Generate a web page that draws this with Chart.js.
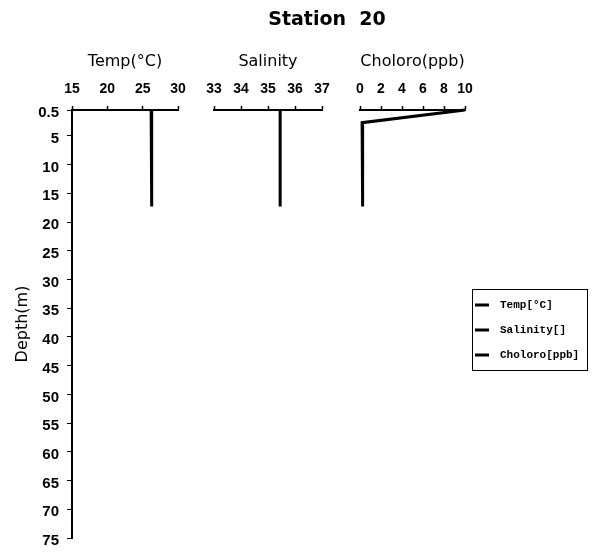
<!DOCTYPE html>
<html>
<head>
<meta charset="utf-8">
<script src="https://cdn.jsdelivr.net/npm/chart.js@4/dist/chart.umd.min.js"></script>
<style>
  html, body { margin: 0; padding: 0; background: #fff; }
</style>
</head>
<body>
<canvas id="perfil" width="596" height="557"></canvas>
<script>
const titulo = "Station  20";
const depth = [0.5, 2.7, 17.3];
const temp = [26.2, 26.25, 26.3];
const salinity = [35.45, 35.45, 35.45];
const chloro = [10, 0.2, 0.25];
const seriesLabels = ["Temp[°C]", "Salinity[]", "Choloro[ppb]"];
const axisTitles = ["Temp(°C)", "Salinity", "Choloro(ppb)"];
const depthTicks = [0.5, 5, 10, 15, 20, 25, 30, 35, 40, 45, 50, 55, 60, 65, 70, 75];
const tempTicks = [15, 30, 5];
const salTicks = [33, 37, 1];
const chlTicks = [0, 10, 2];

Chart.defaults.font.family = "'Liberation Sans', Arial, sans-serif";
Chart.defaults.color = "#000";

function serie(label, values, axis) {
  return {
    label: label,
    data: depth.map((d, i) => ({ x: values[i], y: d })),
    xAxisID: axis,
    yAxisID: "y",
    borderColor: "#000",
    backgroundColor: "#000",
    borderWidth: 3,
    pointRadius: 0,
    tension: 0,
    clip: false
  };
}

function ejeSuperior(title, range, weight, stackWeight) {
  return {
    type: "linear",
    position: "top",
    stack: "perfil",
    stackWeight: stackWeight,
    weight: weight,
    min: range[0],
    max: range[1],
    ticks: { stepSize: range[2], padding: 8, maxRotation: 0, autoSkip: false, font: { size: 14, weight: "bold" } },
    grid: { drawOnChartArea: false, color: "#000", tickLength: 4, tickWidth: 1.5 },
    border: { color: "#000", width: 2 },
    title: { display: true, text: title, font: { family: "'DejaVu Sans'", size: 16 }, padding: { top: 4, bottom: 2 } }
  };
}

function hueco(weight, stackWeight) {
  return {
    type: "linear",
    position: "top",
    stack: "perfil",
    stackWeight: stackWeight,
    weight: weight,
    min: 0,
    max: 1,
    ticks: { display: false },
    grid: { display: false },
    border: { display: false }
  };
}

const extras = {
  id: "extras",
  afterDraw(chart) {
    const ctx = chart.ctx;
    ctx.save();
    ctx.fillStyle = "#000";
    ctx.strokeStyle = "#000";
    ctx.font = "bold 19px 'DejaVu Sans'";
    ctx.textAlign = "center";
    ctx.textBaseline = "middle";
    ctx.fillText(titulo, 327, 20);

    ctx.lineWidth = 1;
    ctx.strokeRect(472.5, 289.5, 115, 81);
    ctx.font = "bold 11px 'Liberation Mono'";
    ctx.textAlign = "left";
    chart.data.datasets.forEach((ds, i) => {
      const y = 305 + i * 25;
      ctx.lineWidth = 3;
      ctx.beginPath();
      ctx.moveTo(475, y);
      ctx.lineTo(489, y);
      ctx.stroke();
      ctx.fillText(ds.label, 500, y);
    });
    ctx.restore();
  }
};

new Chart(document.getElementById("perfil"), {
  type: "line",
  data: {
    datasets: [
      serie(seriesLabels[0], temp, "xTemp"),
      serie(seriesLabels[1], salinity, "xSal"),
      serie(seriesLabels[2], chloro, "xChl")
    ]
  },
  options: {
    responsive: false,
    animation: false,
    devicePixelRatio: 1,
    layout: { padding: { top: 48, right: 131, bottom: 19, left: 0 } },
    plugins: { legend: { display: false }, tooltip: { enabled: false } },
    scales: {
      xTemp: ejeSuperior(axisTitles[0], tempTicks, 5, 106),
      gap1: hueco(4, 36),
      xSal: ejeSuperior(axisTitles[1], salTicks, 3, 108),
      gap2: hueco(2, 38),
      xChl: ejeSuperior(axisTitles[2], chlTicks, 1, 105),
      y: {
        type: "linear",
        position: "left",
        reverse: true,
        min: 0.5,
        max: 75,
        afterBuildTicks: scale => { scale.ticks = depthTicks.map(v => ({ value: v })); },
        afterFit: scale => { scale.width = 72; },
        ticks: { padding: 8, labelOffset: 3, font: { size: 15, weight: "bold" }, callback: v => String(v) },
        grid: { drawOnChartArea: false, color: "#000", tickLength: 5 },
        border: { color: "#000", width: 2 },
        title: { display: true, text: "Depth(m)", font: { family: "'DejaVu Sans'", size: 16 }, padding: { top: 13, bottom: 4 } }
      }
    }
  },
  plugins: [extras]
});
</script>
</body>
</html>
